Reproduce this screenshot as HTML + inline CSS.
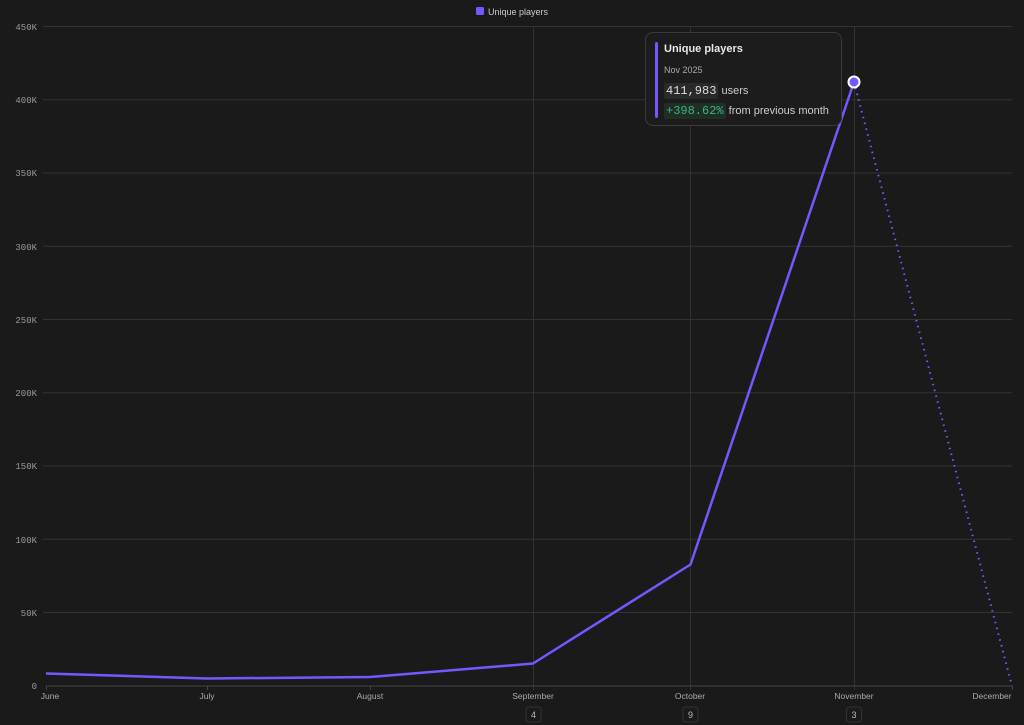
<!DOCTYPE html>
<html><head><meta charset="utf-8"><style>
html,body{margin:0;padding:0;background:#1a1a1a;}
body{width:1024px;height:725px;overflow:hidden;position:relative;font-family:"Liberation Sans",sans-serif;}
svg{position:absolute;left:0;top:0}
.tip{position:absolute;left:645px;top:32px;width:197px;height:94px;box-sizing:border-box;border:1px solid #3a3a3a;border-radius:8px;background:#1c1c1c;}
.bar{position:absolute;left:9px;top:9px;width:3px;height:76px;background:#7657ff;border-radius:2px}
.t1{position:absolute;left:18px;top:10px;color:#e8e8e8;font-size:11px;font-weight:bold}
.t2{position:absolute;left:18px;top:32px;color:#aaa;font-size:9px}
.t3{position:absolute;left:18px;top:51px;color:#ccc;font-size:11px}
.t4{position:absolute;left:18px;top:71px;color:#ccc;font-size:11px}
.m{font-family:"Liberation Mono",monospace;font-size:12px;background:#2a2a2a;padding:1px 2px;border-radius:2px;color:#ddd}
.g{font-family:"Liberation Mono",monospace;font-size:12px;background:#1f2e26;padding:1px 2px;border-radius:2px;color:#3fb37a}
</style></head><body>
<svg width="1024" height="725" font-family="Liberation Sans, sans-serif">
<g stroke="#333" stroke-width="1">
<line x1="43" y1="26.5" x2="1012" y2="26.5"/>
<line x1="43" y1="99.8" x2="1012" y2="99.8"/>
<line x1="43" y1="173" x2="1012" y2="173"/>
<line x1="43" y1="246.3" x2="1012" y2="246.3"/>
<line x1="43" y1="319.5" x2="1012" y2="319.5"/>
<line x1="43" y1="392.8" x2="1012" y2="392.8"/>
<line x1="43" y1="466" x2="1012" y2="466"/>
<line x1="43" y1="539.3" x2="1012" y2="539.3"/>
<line x1="43" y1="612.5" x2="1012" y2="612.5"/>
<line x1="533.5" y1="26" x2="533.5" y2="690"/>
<line x1="690.5" y1="26" x2="690.5" y2="690"/>
<line x1="854.5" y1="26" x2="854.5" y2="690"/>
</g>
<line x1="46" y1="686" x2="1012" y2="686" stroke="#444"/>
<g stroke="#444"><line x1="46.5" y1="686" x2="46.5" y2="690"/><line x1="207.5" y1="686" x2="207.5" y2="690"/><line x1="370.5" y1="686" x2="370.5" y2="690"/><line x1="1012.5" y1="686" x2="1012.5" y2="690"/></g>
<g font-family="Liberation Mono, monospace" font-size="9" fill="#9a9a9a" text-anchor="end">
<text x="37" y="30">450K</text><text x="37" y="103">400K</text><text x="37" y="176">350K</text><text x="37" y="250">300K</text><text x="37" y="323">250K</text><text x="37" y="396">200K</text><text x="37" y="469">150K</text><text x="37" y="543">100K</text><text x="37" y="616">50K</text><text x="37" y="689">0</text>
</g>
<g font-size="8.5" fill="#aaa" text-anchor="middle">
<text x="50" y="699">June</text><text x="207" y="699">July</text><text x="370" y="699">August</text><text x="533" y="699">September</text><text x="690" y="699">October</text><text x="854" y="699">November</text><text x="992" y="699">December</text>
</g>
<g fill="none" stroke="#333" stroke-width="1">
<rect x="526" y="707" width="15" height="15" rx="3"/><rect x="683" y="707" width="15" height="15" rx="3"/><rect x="846.5" y="707" width="15" height="15" rx="3"/>
</g>
<g font-size="9" fill="#bbb" text-anchor="middle"><text x="533.5" y="718">4</text><text x="690.5" y="718">9</text><text x="854" y="718">3</text></g>
<polyline points="46,673.5 207,678.5 370,677 533,663.5 690.5,564.5 854,82" fill="none" stroke="#7657ff" stroke-width="2.5" stroke-linejoin="round"/>
<line x1="854" y1="82" x2="1012" y2="686" stroke="#7657ff" stroke-width="2" stroke-dasharray="1.5,4.5"/>
<circle cx="854" cy="82" r="5.5" fill="#7657ff" stroke="#fff" stroke-width="2"/>
<rect x="476" y="7" width="8" height="8" rx="1.5" fill="#7657ff"/>
<text x="488" y="15" font-size="9" fill="#ccc">Unique players</text>
</svg>
<div class="tip"><div class="bar"></div>
<div class="t1">Unique players</div>
<div class="t2">Nov 2025</div>
<div class="t3"><span class="m">411,983</span> users</div>
<div class="t4"><span class="g">+398.62%</span> from previous month</div>
</div>
</body></html>
